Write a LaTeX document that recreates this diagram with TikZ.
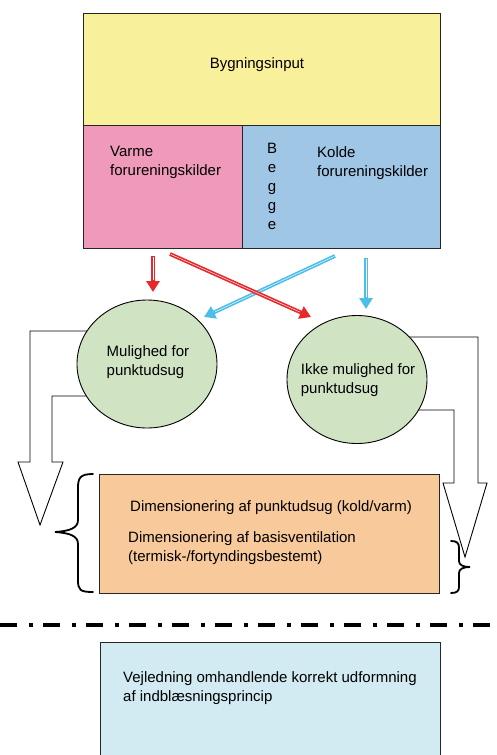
\documentclass[tikz,border=0pt]{standalone}
\usepackage{fontspec}
\setmainfont{Liberation Sans}
\usetikzlibrary{shapes.geometric,arrows.meta,calc}
\definecolor{cyel}{HTML}{F9F09B}
\definecolor{cpink}{HTML}{F09ABB}
\definecolor{cblue}{HTML}{A0C6E6}
\definecolor{cgreen}{HTML}{D0E4C4}
\definecolor{corange}{HTML}{F8C99A}
\definecolor{clight}{HTML}{D2EAF1}
\definecolor{cred}{HTML}{E8272A}
\definecolor{ccyan}{HTML}{4DBDEA}
\tikzset{
  box/.style={draw=black!85,line width=0.9pt,inner sep=0pt,anchor=north west},
  txt/.style={font=\fontsize{15}{19}\selectfont,align=left,inner sep=0pt},
  circ/.style={ellipse,draw=black,line width=0.9pt,fill=cgreen,minimum width=140pt,minimum height=128pt,inner sep=0pt},
  flow/.style={line width=3.8pt,-{Triangle[length=11pt,width=13pt]},postaction={draw=white,line width=0.45pt,-,shorten >=12pt,shorten <=1pt}},
  blockarrow/.style={draw=black,line width=0.9pt,fill=white,line join=miter},
  bracestyle/.style={draw=black,line width=1.8pt,line cap=round},
}
\begin{document}
\begin{tikzpicture}[x=1pt,y=-1pt]
\useasboundingbox (0,0) rectangle (497,755);
% top box
\node[box,fill=cyel,minimum width=357pt,minimum height=112pt] (top) at (83,13) {};
\node[txt] (toptxt) at (257,65) {Bygningsinput};
\node[box,fill=cpink,minimum width=159pt,minimum height=123pt] (varme) at (83,125) {};
\node[box,fill=cblue,minimum width=198pt,minimum height=123pt] (kolde) at (242,125) {};
\node[txt,anchor=west] (varmetxt) at (110,162.5) {Varme\\forureningskilder};
\node[txt,anchor=west] (koldetxt) at (317,163.5) {Kolde\\forureningskilder};
\node[txt,align=center] (begge) at (272,186) {B\\e\\g\\g\\e};
% arrow endpoints
\coordinate (r1s) at (153,256);
\coordinate (r1e) at (153,292);
\coordinate (r2s) at (170,254);
\coordinate (r2e) at (311,317);
\coordinate (b1s) at (335,256);
\coordinate (b1e) at (204,317);
\coordinate (b2s) at (366,258);
\coordinate (b2e) at (366,309);
\draw[flow,ccyan] (b1s) -- (b1e);
\draw[flow,cred] (r2s) -- (r2e);
\draw[flow,cred] (r1s) -- (r1e);
\draw[flow,ccyan] (b2s) -- (b2e);
% block arrows
\draw[blockarrow] (110,331) -- (30,331) -- (30,462) -- (18,462) -- (40,525) -- (63,462) -- (52,462) -- (52,396) -- (110,396);
\draw[blockarrow] (390,337) -- (478,337) -- (478,483) -- (487,483) -- (465,557) -- (443,483) -- (454,483) -- (454,410) -- (390,410);
% circles
\node[circ] (mul) at (147,364) {};
\node[txt] (multxt) at (148,362.5) {Mulighed for\\punktudsug};
\node[circ] (ikke) at (357,379.5) {};
\node[txt] (ikketxt) at (358,380.5) {Ikke mulighed for\\punktudsug};
% orange box
\node[box,fill=corange,minimum width=340pt,minimum height=119pt] (dim) at (99,474) {};
\node[txt,anchor=west] (dim1) at (130,508) {Dimensionering af punktudsug (kold/varm)};
\node[txt,anchor=west] (dim2) at (128,548) {Dimensionering af basisventilation\\(termisk-/fortyndingsbestemt)};
% braces
\draw[bracestyle] (93,474) .. controls (80,474) and (78,478) .. (78,488) -- (78,520) .. controls (78,528) and (70,531) .. (55,532) .. controls (70,533) and (78,536) .. (78,544) -- (78,580) .. controls (78,590) and (80,592) .. (93,592);
\draw[bracestyle] (451,541) .. controls (457,541) and (459,543) .. (459,548) -- (459,561) .. controls (459,565) and (463,567) .. (470,567) .. controls (463,567) and (459,569) .. (459,573) -- (459,587) .. controls (459,591) and (457,593) .. (451,593);
% dash-dot separator
\draw[line width=4pt,dash pattern=on 17pt off 12pt on 3.5pt off 10.5pt] (0,625) -- (497,625);
% bottom box
\node[box,fill=clight,minimum width=340pt,minimum height=130pt] (vej) at (100,642) {};
\node[txt,anchor=west] (vejtxt) at (123,688.5) {Vejledning omhandlende korrekt udformning\\af indblæsningsprincip};
\end{tikzpicture}
\end{document}
